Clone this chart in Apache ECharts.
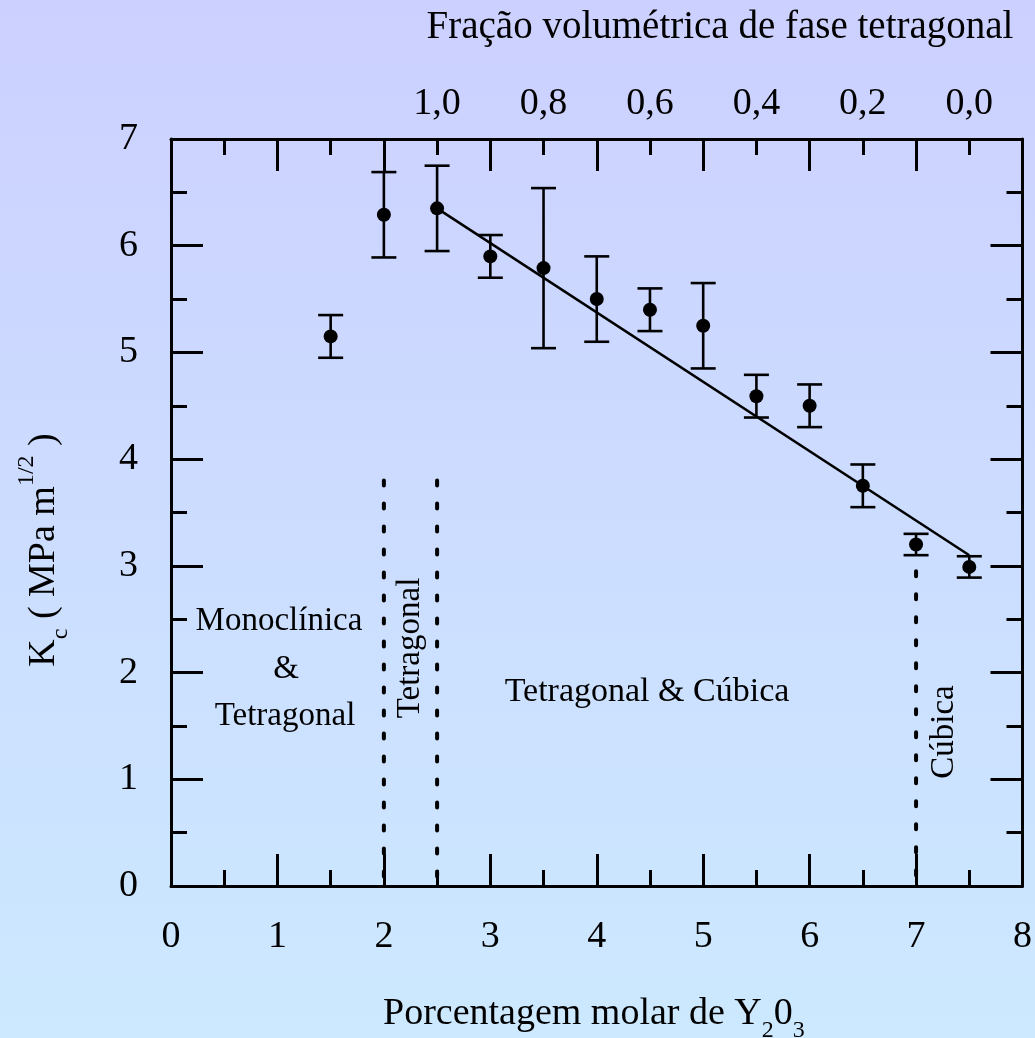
<!DOCTYPE html>
<html>
<head>
<meta charset="utf-8">
<script src="https://cdn.jsdelivr.net/npm/echarts@6/dist/echarts.min.js"></script>
<style>
html,body{margin:0;padding:0;}
#chart{width:1035px;height:1038px;}
</style>
</head>
<body>
<div id="chart"></div>
<script>
// ---- data ----
const molarY2O3 = [1.5, 2, 2.5, 3, 3.5, 4, 4.5, 5, 5.5, 6, 6.5, 7, 7.5];
const kcValues  = [5.15, 6.29, 6.35, 5.90, 5.79, 5.50, 5.40, 5.25, 4.59, 4.50, 3.75, 3.20, 2.99];
const kcErrors  = [0.20, 0.40, 0.40, 0.20, 0.75, 0.40, 0.20, 0.40, 0.20, 0.20, 0.20, 0.10, 0.10];
const fitX = [2.5, 7.5];
const fitY = [6.35, 3.10];
const boundaryX   = [2, 2.5, 7];
const boundaryTop = [3.8, 3.8, 2.95];
const bottomTicks = [0, 1, 2, 3, 4, 5, 6, 7, 8];
const leftTicks = [0, 1, 2, 3, 4, 5, 6, 7];
const topTickPos = [2.5, 3.5, 4.5, 5.5, 6.5, 7.5];
const topTickLabels = ['1,0', '0,8', '0,6', '0,4', '0,2', '0,0'];

const FONT = '"Liberation Serif", "Times New Roman", serif';
const chart = echarts.init(document.getElementById('chart'));

const axisCommon = {
  min: 0,
  axisLine: { show: true, onZero: false, lineStyle: { color: '#000', width: 3 } },
  axisTick: { show: true, inside: true, length: 32, lineStyle: { color: '#000', width: 3 } },
  minorTick: { show: true, splitNumber: 2, length: 16, lineStyle: { color: '#000', width: 3 } },
  splitLine: { show: false },
  minorSplitLine: { show: false }
};

const errData = molarY2O3.map((x, i) => [x, kcValues[i] - kcErrors[i], kcValues[i] + kcErrors[i]]);
const pts = molarY2O3.map((x, i) => [x, kcValues[i]]);
const fitData = fitX.map((x, i) => [x, fitY[i]]);

const boundarySeries = boundaryX.map((x, i) => ({
  type: 'line',
  xAxisIndex: 0, yAxisIndex: 0,
  data: [[x, boundaryTop[i]], [x, 0]],
  symbol: 'none',
  silent: true,
  lineStyle: { color: '#000', width: 4, type: [5, 18], cap: 'round' },
  z: 2
}));

const option = {
  backgroundColor: {
    type: 'linear', x: 0, y: 0, x2: 0, y2: 1,
    colorStops: [{ offset: 0, color: '#ccd0ff' }, { offset: 1, color: '#cce9ff' }]
  },
  animation: false,
  grid: { left: 171, right: 12, top: 139, bottom: 152 },
  xAxis: [
    Object.assign({}, axisCommon, {
      type: 'value', position: 'bottom', max: 8, interval: 1,
      axisLabel: {
        margin: 32, fontSize: 38, color: '#000', fontFamily: FONT,
        formatter: v => (bottomTicks.indexOf(v) >= 0 ? String(v) : '')
      }
    }),
    Object.assign({}, axisCommon, {
      type: 'value', position: 'top', max: 8, interval: 1,
      axisLabel: { show: false }
    }),
    {
      type: 'value', position: 'top', min: 0, max: 8, interval: 0.5,
      axisLine: { show: false, onZero: false }, axisTick: { show: false }, splitLine: { show: false },
      axisLabel: {
        margin: 16, fontSize: 38, color: '#000', fontFamily: FONT,
        formatter: v => {
          const i = topTickPos.findIndex(p => Math.abs(p - v) < 1e-6);
          return i >= 0 ? topTickLabels[i] : '';
        }
      }
    }
  ],
  yAxis: [
    Object.assign({}, axisCommon, {
      type: 'value', position: 'left', max: 7, interval: 1,
      axisLabel: {
        margin: 33, fontSize: 38, color: '#000', fontFamily: FONT,
        formatter: v => (leftTicks.indexOf(v) >= 0 ? String(v) : '')
      }
    }),
    Object.assign({}, axisCommon, {
      type: 'value', position: 'right', max: 7, interval: 1,
      axisLabel: { show: false }
    })
  ],
  series: boundarySeries.concat([
    {
      type: 'line',
      data: fitData,
      symbol: 'none',
      silent: true,
      lineStyle: { color: '#000', width: 2.5 },
      z: 3
    },
    {
      type: 'custom',
      data: errData,
      encode: { x: 0, y: [1, 2] },
      silent: true,
      z: 4,
      renderItem: function (params, api) {
        const x = api.value(0), lo = api.value(1), hi = api.value(2);
        const a = api.coord([x, lo]), b = api.coord([x, hi]);
        const hw = 12.5;
        const st = { stroke: '#000', lineWidth: 2.6 };
        return {
          type: 'group',
          children: [
            { type: 'line', shape: { x1: a[0], y1: a[1], x2: b[0], y2: b[1] }, style: st },
            { type: 'line', shape: { x1: a[0] - hw, y1: a[1], x2: a[0] + hw, y2: a[1] }, style: st },
            { type: 'line', shape: { x1: b[0] - hw, y1: b[1], x2: b[0] + hw, y2: b[1] }, style: st }
          ]
        };
      }
    },
    {
      type: 'scatter',
      data: pts,
      symbol: 'circle',
      symbolSize: 14,
      itemStyle: { color: '#000', opacity: 1 },
      silent: true,
      z: 5
    }
  ]),
  graphic: [
    {
      type: 'text', x: 720, y: 28,
      style: { text: 'Fração volumétrica de fase tetragonal', font: '39px ' + FONT, fill: '#000', align: 'center', verticalAlign: 'middle' }
    },
    {
      type: 'text', x: 383, y: 1014,
      style: {
        text: '{m|Porcentagem molar de Y}{s|2}{m|0}{s|3}',
        align: 'left', verticalAlign: 'middle', fill: '#000',
        rich: {
          m: { fontSize: 38, fontFamily: FONT, lineHeight: 58, fill: '#000', verticalAlign: 'middle' },
          s: { fontSize: 24, fontFamily: FONT, lineHeight: 24, fill: '#000', verticalAlign: 'bottom' }
        }
      }
    },
    {
      type: 'text', x: 44, y: 550, rotation: Math.PI / 2,
      style: {
        text: '{m|K}{s|c}{m| ( MPa m}{p|1/2}{m| )}',
        align: 'center', verticalAlign: 'middle', fill: '#000',
        rich: {
          m: { fontSize: 38, fontFamily: FONT, lineHeight: 58, fill: '#000', verticalAlign: 'middle' },
          s: { fontSize: 24, fontFamily: FONT, lineHeight: 24, fill: '#000', verticalAlign: 'bottom' },
          p: { fontSize: 24, fontFamily: FONT, lineHeight: 24, fill: '#000', verticalAlign: 'top' }
        }
      }
    },
    { type: 'text', x: 279, y: 621, style: { text: 'Monoclínica', font: '33px ' + FONT, fill: '#000', align: 'center', verticalAlign: 'middle' } },
    { type: 'text', x: 286, y: 669, style: { text: '&', font: '33px ' + FONT, fill: '#000', align: 'center', verticalAlign: 'middle' } },
    { type: 'text', x: 285, y: 716, style: { text: 'Tetragonal', font: '33px ' + FONT, fill: '#000', align: 'center', verticalAlign: 'middle' } },
    { type: 'text', x: 410, y: 648, rotation: Math.PI / 2, style: { text: 'Tetragonal', font: '33px ' + FONT, fill: '#000', align: 'center', verticalAlign: 'middle' } },
    { type: 'text', x: 647, y: 692, style: { text: 'Tetragonal & Cúbica', font: '34px ' + FONT, fill: '#000', align: 'center', verticalAlign: 'middle' } },
    { type: 'text', x: 944, y: 732, rotation: Math.PI / 2, style: { text: 'Cúbica', font: '33px ' + FONT, fill: '#000', align: 'center', verticalAlign: 'middle' } }
  ]
};
chart.setOption(option);
</script>
</body>
</html>
